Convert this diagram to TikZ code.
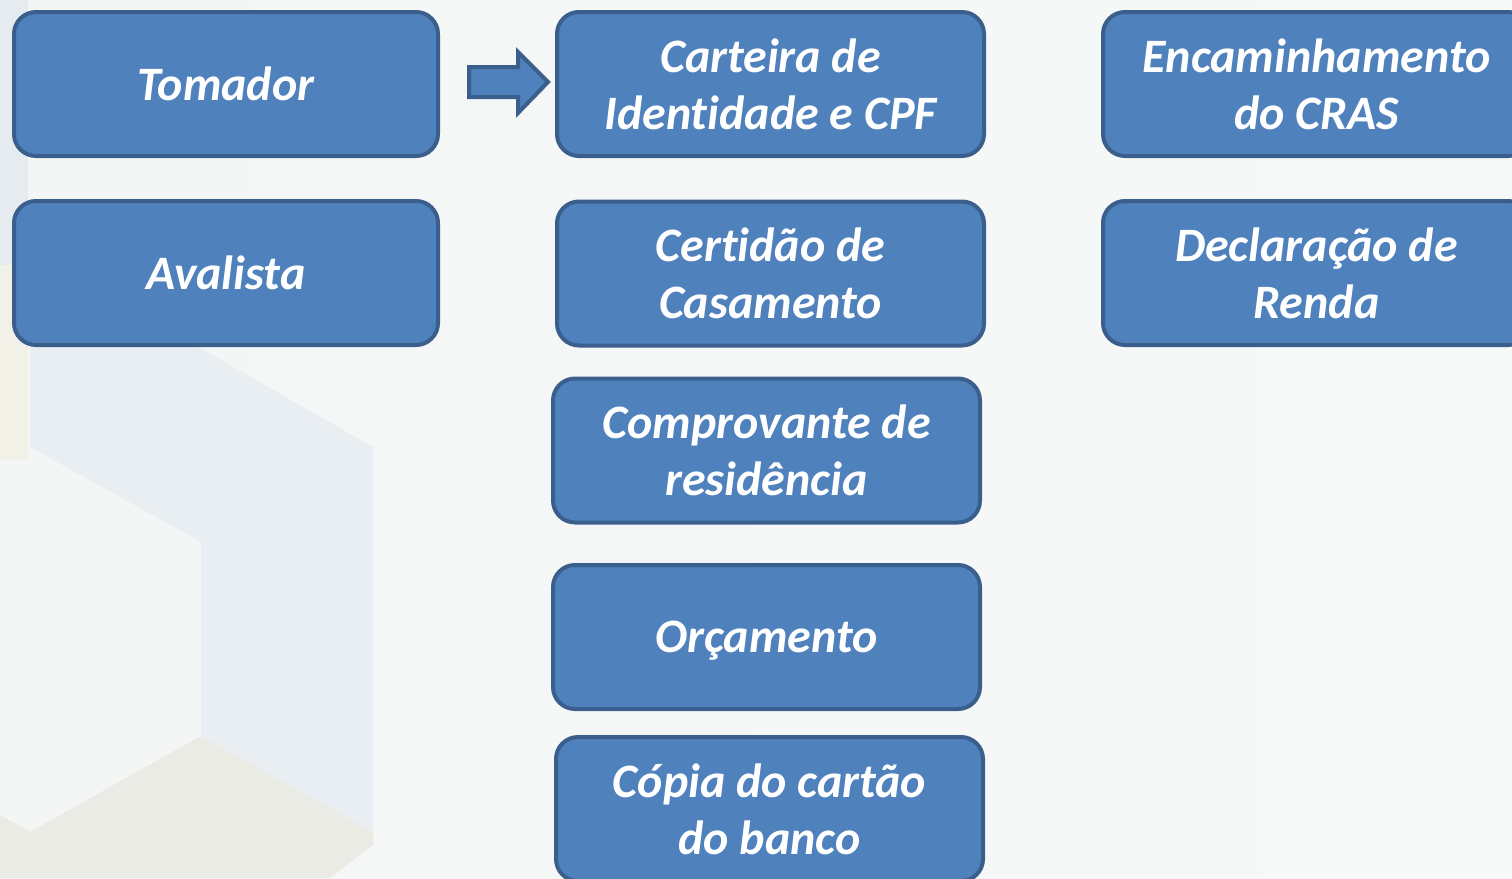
\documentclass[tikz,border=0pt]{standalone}
\usepackage{fontspec}
\setmainfont{Carlito}[Ligatures={NoCommon,NoContextual}]
\definecolor{boxfill}{HTML}{4F81BD}
\definecolor{boxline}{HTML}{3A5F8D}
\definecolor{bgleft}{HTML}{F4F5F5}
\definecolor{bgright}{HTML}{F7F8F8}
\definecolor{hexblue}{HTML}{E9EEF2}
\definecolor{hexbeige}{HTML}{E9EBE4}
\definecolor{stripblue}{HTML}{E5EBEE}
\definecolor{stripbeige}{HTML}{F2F1E8}
\tikzset{
  card/.style={draw=boxline, line width=4pt, fill=boxfill, rounded corners=22pt,
    minimum width=424pt, minimum height=144pt, inner sep=0pt, align=center,
    text=white, font=\fontsize{48}{57}\selectfont\bfseries\itshape},
  widecard/.style={card, minimum width=427pt},
  blockarrow/.style={draw=boxline, line width=4pt, fill=boxfill, line join=miter}
}
\begin{document}
\begin{tikzpicture}[x=1pt, y=-1pt]
\useasboundingbox (0,0) rectangle (1512,878);
\clip (0,0) rectangle (1512,878);
% background
\shade[left color=bgleft, right color=bgright] (0,0) rectangle (1512,878);
\fill[stripblue] (0,0) rectangle (28,265);
\fill[stripbeige] (0,265) rectangle (28,460);
\fill[hexblue] (30,300) -- (30,447) -- (201,542) -- (201,736) -- (373,832) -- (373,447) -- (200,348) -- (30,300) -- cycle;
\fill[hexbeige] (0,815) -- (30,832) -- (201,736) -- (373,832) -- (373,845) -- (330,878) -- (0,878) -- cycle;
% boxes
\node[card] (tomador) at (226,84) {Tomador};
\node[card] (avalista) at (226,273) {Avalista};
\node[widecard] (carteira) at (770.5,84) {Carteira de\\Ident\kern0pt idade e CPF};
\node[widecard] (certidao) at (770.5,273.5) {Cert\kern0pt idão de\\Casamento};
\node[widecard] (comprovante) at (766.5,450.5) {Comprovante de\\residência};
\node[widecard, text depth=0pt] (orcamento) at (766.5,637) {Orçamento};
\node[widecard] (copia) at (769.5,809) {Cópia do cartão\\do banco};
\node[widecard] (encaminhamento) at (1316.5,84) {Encaminhamento\\do CRAS};
\node[widecard] (declaracao) at (1316.5,273) {Declaração de\\Renda};
% block arrow
\draw[blockarrow] (469,67) -- (518,67) -- (518,52) -- (548,82) -- (518,113) -- (518,97) -- (469,97) -- cycle;
\end{tikzpicture}
\end{document}
